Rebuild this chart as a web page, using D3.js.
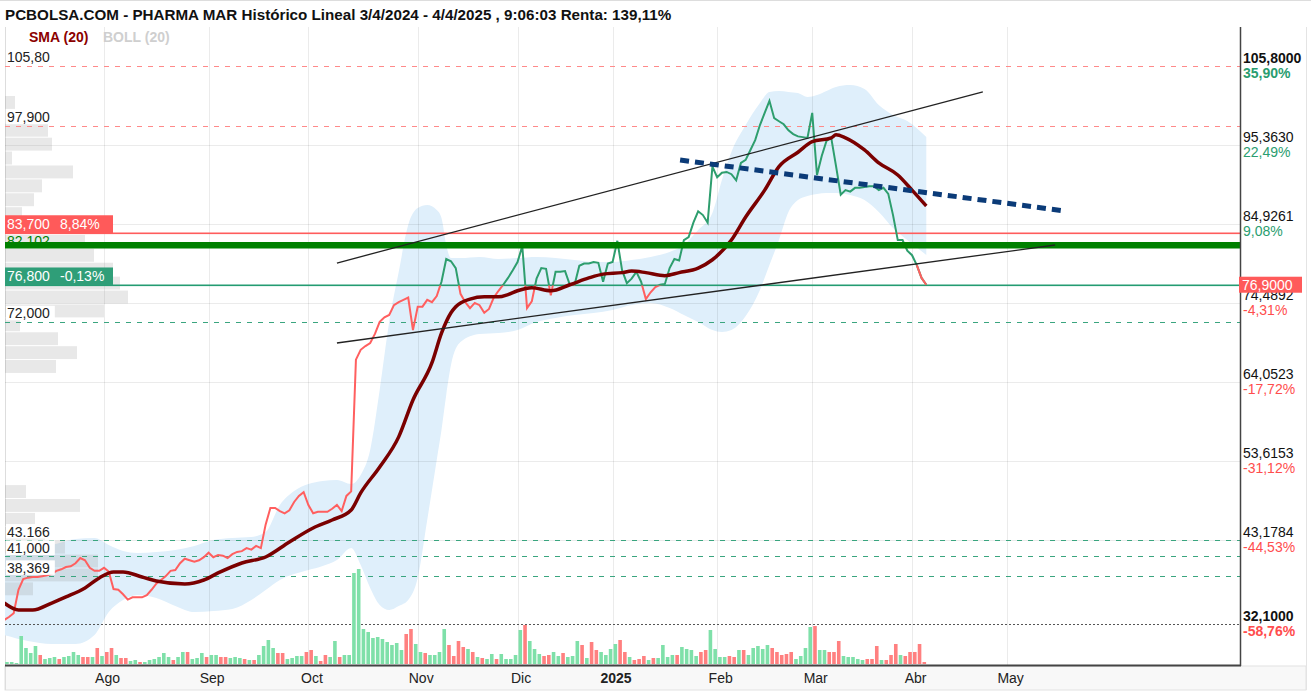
<!DOCTYPE html>
<meta charset="utf-8">
<script src="https://d3js.org/d3.v7.min.js"></script>
<style>
  body { margin: 0; background: #fff; }
  svg { display: block; font-family: "Liberation Sans", Arial, sans-serif; }
</style>
<div id="my_dataviz"></div>
<script>

// daily closes, one per trading day, 3 Jul 2024 .. 4 Apr 2025
var prices = [
  32.6, 33.0, 33.5, 36.6, 38.0, 38.2, 38.3, 38.3, 38.4, 38.5,
  38.7, 39.1, 39.3, 39.6, 39.7, 40.1, 40.8, 40.5, 39.5, 39.1,
  39.1, 39.5, 39.0, 36.7, 36.6, 36.0, 35.3, 35.6, 35.6, 35.6,
  35.9, 36.6, 37.4, 37.9, 38.4, 39.1, 39.2, 40.1, 40.7, 40.5,
  40.3, 40.5, 40.9, 41.5, 40.9, 41.2, 41.1, 40.8, 41.3, 41.6,
  41.7, 42.1, 41.9, 42.4, 42.1, 45.2, 47.4, 47.4, 47.0, 46.7,
  47.1, 48.2, 49.0, 49.5, 47.8, 46.7, 46.9, 46.9, 46.9, 47.3,
  47.8, 47.0, 49.0, 49.6, 67.0, 68.3, 68.8, 69.2, 70.4, 72.0,
  72.6, 72.9, 74.2, 74.6, 74.9, 75.2, 70.9, 74.0, 74.0, 74.9,
  74.6, 75.4, 77.3, 80.3, 80.0, 79.1, 75.7, 74.6, 73.8, 74.5,
  74.2, 73.2, 73.7, 75.2, 76.1, 76.9, 77.8, 78.8, 79.9, 82.0,
  73.8, 74.7, 77.7, 79.1, 79.0, 75.5, 78.6, 78.6, 78.7, 76.9,
  76.9, 79.4, 79.7, 79.7, 79.9, 79.8, 77.3, 79.7, 79.9, 82.7,
  78.8, 77.1, 77.7, 78.6, 77.3, 75.0, 75.9, 76.6, 76.9, 77.0,
  79.1, 80.3, 80.1, 82.8, 83.2, 85.1, 86.6, 86.1, 85.1, 92.5,
  91.1, 91.7, 91.8, 91.5, 90.7, 93.0, 93.4, 94.7, 96.0, 98.0,
  99.6, 101.2, 98.9, 98.5, 98.1, 97.3, 96.8, 96.5, 96.4, 96.3,
  99.6, 91.4, 93.9, 95.9, 96.3, 92.6, 88.8, 89.4, 89.2, 89.7,
  89.7, 89.8, 89.9, 89.9, 89.4, 89.7, 88.9, 86.1, 82.8, 82.8,
  81.4, 80.8, 79.5, 77.8, 76.9
];

var volumes = [
  2, 2, 2, 1, 28, 16, 11, 18, 9, 5,
  6, 7, 5, 7, 8, 12, 9, 7, 7, 7,
  16, 8, 12, 16, 9, 6, 6, 3, 4, 2,
  2, 4, 5, 7, 11, 7, 4, 7, 12, 12,
  5, 6, 11, 7, 9, 9, 7, 7, 6, 7,
  6, 5, 4, 4, 9, 18, 24, 16, 11, 11,
  5, 6, 8, 8, 12, 14, 8, 3, 9, 7,
  23, 7, 9, 9, 91, 95, 35, 32, 26, 27,
  25, 22, 19, 21, 14, 30, 35, 20, 12, 11,
  9, 9, 12, 35, 19, 8, 23, 17, 15, 12,
  7, 6, 5, 10, 5, 10, 5, 5, 9, 34,
  39, 23, 15, 10, 8, 9, 12, 8, 11, 7,
  8, 23, 19, 6, 22, 14, 12, 9, 15, 20,
  24, 12, 7, 4, 5, 8, 4, 6, 6, 19,
  7, 9, 9, 17, 15, 14, 8, 12, 14, 34,
  15, 7, 7, 8, 7, 14, 14, 9, 16, 18,
  15, 19, 16, 12, 9, 10, 12, 5, 8, 16,
  37, 38, 14, 14, 12, 12, 23, 8, 7, 7,
  5, 4, 5, 5, 18, 4, 4, 9, 20, 9,
  8, 12, 12, 20, 2
];

// 1 = up session, 0 = down session
var volUp = [
  1,1,1,1,1,1,1,1,0,1, 1,1,0,1,1,1,1,0,0,1,
  0,1,0,0,1,0,0,1,1,0, 1,1,1,1,1,1,0,1,1,0,
  1,1,1,0,1,1,0,0,1,1, 1,0,1,0,1,1,1,1,0,0,
  1,1,1,1,0,0,1,0,0,1, 1,0,1,1,1,1,1,1,1,1,
  1,1,1,1,1,0,0,1,1,0, 1,1,1,1,0,0,0,0,1,0,
  1,0,1,1,0,1,1,1,1,1, 0,1,1,1,0,0,1,1,0,1,
  1,1,0,1,0,0,1,1,1,1, 0,0,1,0,0,0,1,0,1,1,
  1,1,0,1,1,1,1,0,0,1, 1,1,1,0,0,1,0,1,1,1,
  1,1,0,0,0,0,0,1,1,1, 1,0,1,1,0,0,0,1,1,1,
  1,1,0,0,0,1,0,0,0,1, 0,0,0,0,0
];

// SMA (20)
var smaIdx = [0, 3, 6, 10, 13, 17, 20, 23, 25, 29, 32, 38, 42, 45, 50, 55, 60, 65, 69, 73,
  75, 79, 83, 86, 90, 92, 94, 95, 98, 101, 104, 106, 108, 111, 115, 119, 123, 126, 130, 132,
  135, 139, 142, 146, 149, 153, 156, 160, 163, 167, 170, 174, 175, 177, 181, 184, 188, 191, 194];
var smaVal = [34.85, 33.93, 33.93, 34.85, 35.65, 36.84, 38.16, 38.95, 38.95, 38.29, 37.76, 37.36, 37.89, 38.82, 40.14, 40.93, 42.91, 44.76, 45.82, 47.14,
  49.39, 52.82, 56.8, 61.67, 66.6, 70.5, 73.2, 74.0, 75.0, 75.3, 75.3, 75.6, 76.1, 76.5, 76.1, 76.9, 77.8, 78.3, 78.5, 78.7,
  78.5, 78.1, 78.5, 79.1, 80.2, 82.8, 85.85, 89.4, 92.5, 94.4, 95.8, 96.3, 96.7, 96.3, 94.7, 93.0, 91.4, 89.4, 87.3];

// BOLL (20) bands
var bandIdx = [0, 5, 10, 15, 19, 22, 25, 28, 32, 36, 40, 44, 48, 52, 55, 58, 61, 64, 67, 70,
  73, 75, 77, 79, 81, 83, 85, 87, 89, 91, 92, 93, 94, 96, 100, 104, 108, 112, 116, 120,
  124, 128, 132, 136, 140, 143, 146, 149, 151, 153, 156, 159, 161, 163, 165, 167, 169, 171, 173, 175,
  178, 181, 184, 187, 190, 194];
var bandUpper = [41.19, 41.85, 42.51, 43.31, 43.44, 42.51, 41.72, 41.46, 41.59, 41.85,
  42.38, 43.17, 43.44, 43.57, 44.23, 47.80, 49.65, 50.57, 50.97, 51.10,
  50.57, 51.76, 55.07, 62.99, 71.98, 78.58, 84.80, 87.04, 87.44, 86.77,
  85.72, 82.15, 80.43, 80.43, 80.57, 80.30, 80.43, 80.57, 80.43, 80.17,
  79.90, 79.90, 80.17, 80.57, 81.23, 82.15, 84.13, 86.38, 90.74, 94.44,
  98.00, 100.91, 102.37, 102.50, 102.37, 102.23, 101.70, 101.97, 102.50, 103.03,
  103.29, 102.76, 100.65, 99.33, 98.53, 96.42];
var bandLower = [30.62, 29.83, 29.43, 29.43, 30.62, 33.66, 35.25, 35.91, 35.51, 34.46,
  33.66, 33.79, 34.06, 35.25, 36.57, 37.89, 38.68, 39.21, 39.74, 40.53,
  42.12, 39.87, 36.84, 34.59, 33.93, 34.46, 35.25, 38.16, 45.82, 53.75,
  57.71, 62.33, 66.28, 69.33, 70.39, 70.52, 70.92, 71.98, 72.51, 72.90,
  73.17, 73.56, 74.22, 74.49, 73.83, 72.90, 71.98, 70.92, 70.66, 70.92,
  72.77, 76.21, 79.51, 82.81, 86.51, 88.09, 88.62, 88.89, 89.02, 89.02,
  88.76, 88.09, 86.51, 84.40, 82.81, 80.83];

// volume by price, bins going down from profileTop
var profileTop = 101.9;
var profileStep = 1.836;
var profileVol = [10, 0, 43, 47, 7, 68, 37, 29, 17, 60, 80, 89, 108, 115, 123, 99, 15, 53, 72, 51,
  0, 0, 0, 0, 0, 0, 0, 0, 21, 75, 30, 40, 60, 93, 93, 28];

var monthIdx = [21, 43, 64, 87, 108, 128, 150, 170, 191, 211];
var monthLabels = ["Ago", "Sep", "Oct", "Nov", "Dic", "2025", "Feb", "Mar", "Abr", "May"];

var yTicks = [105.8, 95.363, 84.9261, 74.4892, 64.0523, 53.6153, 43.1784, 32.1];
var yPct = ["35,90%", "22,49%", "9,08%", "-4,31%", "-17,72%", "-31,12%", "-44,53%", "-58,76%"];

var redLevels = [105.8, 97.9];
var redLevelLabels = ["105,80", "97,900"];
var greenLevels = [72, 43.166, 41, 38.369];
var greenLevelLabels = ["72,000", "43.166", "41,000", "38,369"];

var resistance = 83.7, resistanceLabel = ["83,700", "8,84%"];
var support = 76.8, supportLabel = ["76,800", "-0,13%"];
var keyLevel = 82.102, keyLabel = "82,102";
var lastPrice = 76.9, lastLabel = "76,9000";
var breakIdx = 192; // last sessions, after the break of the lower trend line, shown red

// hand drawn lines [idx, price]
var trendUpper = [[70.0, 79.77], [205.9, 102.37]];
var trendLower = [[70.0, 69.20], [221.1, 82.15]];
var trendDown = [[142.2, 93.38], [223.2, 86.64]];

var W = 1311, H = 695;
var plotL = 5, plotR = 1240, plotT = 27, plotB = 665;

var svg = d3.select("#my_dataviz")
  .append("svg")
    .attr("width", W)
    .attr("height", H);

var x = d3.scaleLinear().domain([0, 260]).range([4.2, plotR]);
var y = d3.scaleLinear().domain([26.66, 110.95]).range([plotB, plotT]);
var vy = d3.scaleLinear().domain([0, 95]).range([plotB - 1, plotB - 96]);
var px = d3.scaleLinear().domain([0, 123]).range([plotL, plotL + 123]);

var fmt4 = function(v) { return d3.format(".4f")(v).replace(".", ","); };
var crisp = function(v) { return Math.round(y(v)) + 0.5; };

var defs = svg.append("defs");
defs.append("clipPath").attr("id", "plot")
  .append("rect").attr("x", plotL).attr("y", plotT).attr("width", plotR - plotL).attr("height", plotB - plotT);
defs.append("clipPath").attr("id", "above")
  .append("rect").attr("x", plotL).attr("y", plotT).attr("width", plotR - plotL).attr("height", y(support) - plotT);
defs.append("clipPath").attr("id", "below")
  .append("rect").attr("x", plotL).attr("y", y(support)).attr("width", plotR - plotL).attr("height", plotB - y(support));

// frame
svg.append("line").attr("x1", 0).attr("x2", W).attr("y1", 0.5).attr("y2", 0.5).attr("stroke", "#ddd");
svg.append("rect").attr("x", plotL).attr("y", plotB + 1).attr("width", plotR - plotL + 66).attr("height", 24)
  .attr("fill", "#f8f8f8").attr("stroke", "#e2e2e2");
svg.append("line").attr("x1", plotL + 0.5).attr("x2", plotL + 0.5).attr("y1", plotT).attr("y2", plotB + 25)
  .attr("stroke", "#ddd");
svg.append("line").attr("x1", 1306.5).attr("x2", 1306.5).attr("y1", plotT).attr("y2", plotB + 25)
  .attr("stroke", "#e4e4e4");

var plot = svg.append("g").attr("clip-path", "url(#plot)");

// bollinger band
var bandData = bandIdx.map(function(d, i) { return {i: d, hi: bandUpper[i], lo: bandLower[i]}; });
plot.append("path")
  .datum(bandData)
  .attr("fill", "#dfeffb")
  .attr("d", d3.area()
    .x(function(d) { return x(d.i); })
    .y0(function(d) { return y(d.lo); })
    .y1(function(d) { return y(d.hi); })
    .curve(d3.curveMonotoneX));

// grid
plot.selectAll(".hgrid")
  .data(yTicks.slice(1, 7))
  .enter().append("line")
    .attr("x1", plotL).attr("x2", plotR)
    .attr("y1", crisp).attr("y2", crisp)
    .attr("stroke", "rgba(0,0,0,0.08)");
plot.selectAll(".vgrid")
  .data(monthIdx)
  .enter().append("line")
    .attr("x1", function(d) { return Math.round(x(d)) + 0.5; })
    .attr("x2", function(d) { return Math.round(x(d)) + 0.5; })
    .attr("y1", plotT).attr("y2", plotB)
    .attr("stroke", "rgba(0,0,0,0.08)");

// volume profile
plot.selectAll(".prof")
  .data(profileVol)
  .enter().append("rect")
    .attr("x", plotL)
    .attr("y", function(d, k) { return y(profileTop - k * profileStep) + 0.5; })
    .attr("width", function(d) { return px(d) - plotL; })
    .attr("height", function(d, k) { return y(profileTop - (k + 1) * profileStep) - y(profileTop - k * profileStep) - 1; })
    .attr("fill", "rgba(140,140,140,0.2)");

// horizontal levels
plot.selectAll(".redlvl")
  .data(redLevels)
  .enter().append("line")
    .attr("x1", plotL).attr("x2", plotR)
    .attr("y1", crisp).attr("y2", crisp)
    .attr("stroke", "#ff8a8a").attr("stroke-dasharray", "5,6");
plot.selectAll(".greenlvl")
  .data(greenLevels)
  .enter().append("line")
    .attr("x1", plotL).attr("x2", plotR)
    .attr("y1", crisp).attr("y2", crisp)
    .attr("stroke", "#3aa57f").attr("stroke-dasharray", "5,6");
plot.append("line")
  .attr("x1", plotL).attr("x2", plotR)
  .attr("y1", crisp(32.1)).attr("y2", crisp(32.1))
  .attr("stroke", "#555").attr("stroke-dasharray", "2,2");

// solid levels drawn as thin filled strips
plot.append("rect")
  .attr("x", plotL).attr("width", plotR - plotL)
  .attr("y", Math.round(y(resistance)) - 0.5).attr("height", 1.6)
  .style("fill", "#ff5c5c");
plot.append("rect")
  .attr("x", plotL).attr("width", plotR - plotL)
  .attr("y", Math.round(y(support)) - 0.5).attr("height", 1.6)
  .style("fill", "#249c72");

// volume bars
plot.selectAll(".vol")
  .data(volumes)
  .enter().append("rect")
    .attr("x", function(d, i) { return x(i) - 3.8; })
    .attr("width", 3.6)
    .attr("y", function(d) { return vy(d); })
    .attr("height", function(d) { return vy(0) - vy(d); })
    .attr("fill", function(d, i) { return volUp[i] ? "#7fe0a9" : "#ff8080"; });

// price line, green above support, red below
var priceLine = d3.line()
  .x(function(d, i) { return x(i); })
  .y(function(d) { return y(d); });
plot.append("path")
  .datum(prices)
  .attr("clip-path", "url(#above)")
  .attr("fill", "none").attr("stroke", "#2e9e6e").attr("stroke-width", 2)
  .attr("d", priceLine);
plot.append("path")
  .datum(prices)
  .attr("clip-path", "url(#below)")
  .attr("fill", "none").attr("stroke", "#ff5f5f").attr("stroke-width", 2)
  .attr("d", priceLine);
plot.append("path")
  .datum(prices.slice(breakIdx))
  .attr("fill", "none").attr("stroke", "#ff5f5f").attr("stroke-width", 2)
  .attr("d", d3.line()
    .x(function(d, i) { return x(i + breakIdx); })
    .y(function(d) { return y(d); }));

// sma
plot.append("path")
  .datum(smaIdx.map(function(d, i) { return [d, smaVal[i]]; }))
  .attr("fill", "none").attr("stroke", "#7a0000").attr("stroke-width", 3.5)
  .attr("stroke-linejoin", "round")
  .attr("d", d3.line()
    .x(function(d) { return x(d[0]); })
    .y(function(d) { return y(d[1]); })
    .curve(d3.curveMonotoneX));

// key level
svg.append("text")
  .attr("x", 7).attr("y", y(keyLevel) + 1)
  .attr("font-size", 14).attr("fill", "#008000")
  .text(keyLabel);
plot.append("line")
  .attr("x1", plotL).attr("x2", plotR)
  .attr("y1", y(keyLevel)).attr("y2", y(keyLevel))
  .attr("stroke", "#008000").attr("stroke-width", 6.5);

// drawn trend lines
var seg = d3.line().x(function(d) { return x(d[0]); }).y(function(d) { return y(d[1]); });
plot.append("path").datum(trendUpper).attr("fill", "none").attr("stroke", "#222").attr("stroke-width", 1.3).attr("d", seg);
plot.append("path").datum(trendLower).attr("fill", "none").attr("stroke", "#222").attr("stroke-width", 1.3).attr("d", seg);
plot.append("path").datum(trendDown).attr("fill", "none").attr("stroke", "#0b3b78").attr("stroke-width", 5)
  .attr("stroke-dasharray", "9,6").attr("d", seg);

// level labels on the left
function levelLabel(v, txt) {
  var g = svg.append("g");
  var t = g.append("text")
    .attr("x", 7).attr("y", y(v) - 3.5)
    .attr("font-size", 14).attr("fill", "#222")
    .text(txt);
  var w = t.node().getComputedTextLength();
  g.insert("rect", "text")
    .attr("x", plotL + 1).attr("y", y(v) - 16).attr("width", w + 6).attr("height", 14.5)
    .attr("fill", "#fff");
}
redLevels.forEach(function(v, i) { levelLabel(v, redLevelLabels[i]); });
greenLevels.forEach(function(v, i) { levelLabel(v, greenLevelLabels[i]); });

function boxLabel(v, txt, color) {
  svg.append("rect")
    .attr("x", plotL).attr("y", y(v) - 18).attr("width", 108).attr("height", 18)
    .attr("fill", color);
  svg.append("text").attr("x", 7).attr("y", y(v) - 4)
    .attr("font-size", 14).attr("fill", "#fff").text(txt[0]);
  svg.append("text").attr("x", 60).attr("y", y(v) - 4)
    .attr("font-size", 14).attr("fill", "#fff").text(txt[1]);
}
boxLabel(resistance, resistanceLabel, "#ff5a5a");
boxLabel(support, supportLabel, "#2f9e78");

// axes
svg.append("line")
  .attr("x1", plotR + 0.5).attr("x2", plotR + 0.5).attr("y1", plotT).attr("y2", plotB + 1)
  .attr("stroke", "#444").attr("stroke-width", 1.5);
svg.append("line")
  .attr("x1", plotL).attr("x2", plotR + 1).attr("y1", plotB + 0.5).attr("y2", plotB + 0.5)
  .attr("stroke", "#444").attr("stroke-width", 2);

var xaxis = svg.append("g")
  .attr("class", "x_axis")
  .attr("transform", "translate(3," + (plotB + 1) + ")")
  .call(d3.axisBottom(x).tickValues(monthIdx).tickSize(0)
    .tickFormat(function(d, i) { return monthLabels[i]; }));
xaxis.select(".domain").remove();
xaxis.selectAll("text")
  .attr("dy", 0).attr("y", 17)
  .attr("font-size", 14).attr("font-family", "Liberation Sans, Arial, sans-serif")
  .attr("fill", "#222")
  .attr("font-weight", function(d, i) { return monthLabels[i] === "2025" ? "bold" : "normal"; });

var ylab = svg.append("g").attr("class", "y_axis");
yTicks.forEach(function(v, i) {
  var bold = (i === 0 || i === yTicks.length - 1) ? "bold" : "normal";
  ylab.append("text")
    .attr("x", plotR + 3).attr("y", y(v) - 3)
    .attr("font-size", 14).attr("font-weight", bold).attr("fill", "#111")
    .text(fmt4(v));
  ylab.append("text")
    .attr("x", plotR + 3).attr("y", y(v) + 12)
    .attr("font-size", 14).attr("font-weight", bold)
    .attr("fill", yPct[i].charAt(0) === "-" ? "#ff4d4d" : "#2a9d6f")
    .text(yPct[i]);
});

svg.append("rect")
  .attr("x", plotR - 1).attr("y", y(lastPrice) - 8).attr("width", 63).attr("height", 16)
  .attr("fill", "#ff5a5a");
svg.append("text")
  .attr("x", plotR + 2).attr("y", y(lastPrice) + 5)
  .attr("font-size", 14).attr("fill", "#fff")
  .text(lastLabel);

// title and legend
svg.append("text")
  .attr("x", 5).attr("y", 20)
  .attr("font-size", 15.2).attr("font-weight", "bold").attr("fill", "#111")
  .text("PCBOLSA.COM - PHARMA MAR Histórico Lineal 3/4/2024 - 4/4/2025 , 9:06:03 Renta: 139,11%");
svg.append("text")
  .attr("x", 29).attr("y", 42)
  .attr("font-size", 14).attr("font-weight", "bold").attr("fill", "#8b0000")
  .text("SMA (20)");
svg.append("text")
  .attr("x", 103).attr("y", 42)
  .attr("font-size", 14).attr("font-weight", "bold").attr("fill", "#cfcfcf")
  .text("BOLL (20)");

</script>
